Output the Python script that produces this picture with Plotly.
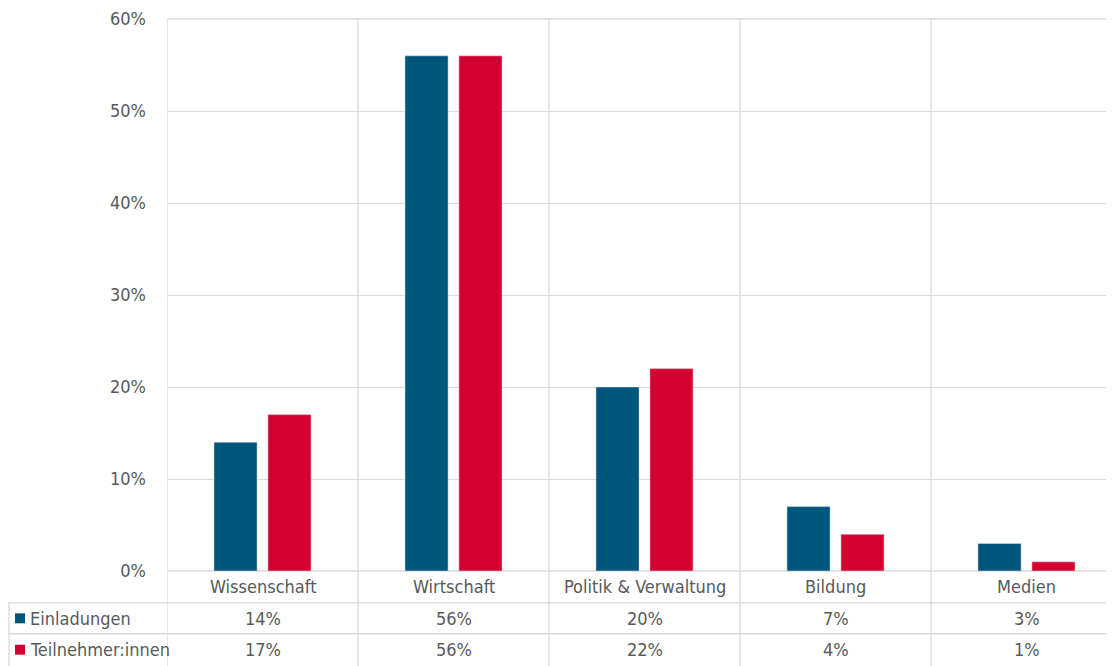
import plotly.graph_objects as go

categories = ["Wissenschaft", "Wirtschaft", "Politik & Verwaltung", "Bildung", "Medien"]
einladungen = [0.14, 0.56, 0.20, 0.07, 0.03]
teilnehmer = [0.17, 0.56, 0.22, 0.04, 0.01]
series_names = ["Einladungen", "Teilnehmer:innen"]
y_ticks = [0, 0.1, 0.2, 0.3, 0.4, 0.5, 0.6]

BLUE = "#00567A"
RED = "#D50032"
GRID = "#D9D9D9"
TEXT = "#595959"
FONT = "Liberation Sans Narrow, DejaVu Sans Condensed, Arial Narrow, sans-serif"
FS = 18

# page has an 8px body margin; compensate so the plot lands where the reference has it
W, H = 1106, 658
ML, MR, MT, MB = 159, 0, 9, 95
plot_h = H - MT - MB
pw = W - ML - MR

xs = list(range(len(categories)))
x_range = [-0.5, len(categories) - 0.5 - 8 / 191]

fig = go.Figure()
fig.add_trace(go.Bar(x=xs, y=einladungen, name=series_names[0], marker_color=BLUE))
fig.add_trace(go.Bar(x=xs, y=teilnehmer, name=series_names[1], marker_color=RED))

def py(pix):
    return -pix / plot_h

row_lines = [py(32), py(63), py(95)]
row_centers = [py(16), py(47.5), py(79)]
lx = -(ML - 0) / pw  # table left border at page x=8 -> fig x=0

shapes = []
for i in range(len(categories) + 1):
    b = i - 0.5
    if b > x_range[1]:
        continue
    shapes.append(dict(type="line", xref="x", yref="paper", x0=b, x1=b,
                       y0=row_lines[2] - 0.05, y1=1, line=dict(color=GRID, width=1.3),
                       layer="below"))
for yl in row_lines[:2]:
    shapes.append(dict(type="line", xref="paper", yref="paper",
                       x0=lx, x1=1, y0=yl, y1=yl, line=dict(color=GRID, width=1.3)))
for yl in (0, 1):
    shapes.append(dict(type="line", xref="paper", yref="paper",
                       x0=0, x1=1, y0=yl, y1=yl, line=dict(color=GRID, width=1.3),
                       layer="below"))
shapes.append(dict(type="line", xref="paper", yref="paper", x0=lx + 1 / pw, x1=lx + 1 / pw,
                   y0=row_lines[2] - 0.05, y1=row_lines[0], line=dict(color=GRID, width=1.3)))
for k, col in enumerate([BLUE, RED]):
    yc = row_centers[k + 1]
    shapes.append(dict(type="rect", xref="paper", yref="paper",
                       x0=lx + 7 / pw, x1=lx + 17 / pw,
                       y0=yc - 5 / plot_h, y1=yc + 5 / plot_h,
                       fillcolor=col, line=dict(width=0)))

annotations = []
for i, c in enumerate(categories):
    annotations.append(dict(x=i, y=row_centers[0], xref="x", yref="paper", text=c,
                            showarrow=False, xanchor="center", yanchor="middle",
                            font=dict(size=FS, color=TEXT, family=FONT)))
    for k, vals in enumerate([einladungen, teilnehmer]):
        annotations.append(dict(x=i, y=row_centers[k + 1], xref="x", yref="paper",
                                text=f"{round(vals[i]*100)}%", showarrow=False,
                                xanchor="center", yanchor="middle",
                                font=dict(size=FS, color=TEXT, family=FONT)))
for k, n in enumerate(series_names):
    annotations.append(dict(x=lx + 20 / pw, y=row_centers[k + 1], xref="paper", yref="paper",
                            text=n, showarrow=False, xanchor="left", yanchor="middle",
                            font=dict(size=FS, color=TEXT, family=FONT)))

fig.update_layout(
    width=W, height=H,
    margin=dict(l=ML, r=MR, t=MT, b=MB),
    paper_bgcolor="white", plot_bgcolor="white",
    barmode="group", bargap=0.435, bargroupgap=0.2,
    showlegend=False,
    font=dict(family=FONT, color=TEXT, size=FS),
    shapes=shapes, annotations=annotations,
    xaxis=dict(range=x_range, showticklabels=False, showgrid=False, zeroline=False,
               showline=False, ticks=""),
    yaxis=dict(range=[0, 0.6], tickvals=y_ticks, tickformat=".0%",
               showgrid=True, gridcolor=GRID, gridwidth=1.3, zeroline=False,
               showline=False, ticks="", ticklabelstandoff=20,
               ticklabeloverflow="allow",
               tickfont=dict(size=FS, color=TEXT, family=FONT)),
)

fig.write_html("out.html")
